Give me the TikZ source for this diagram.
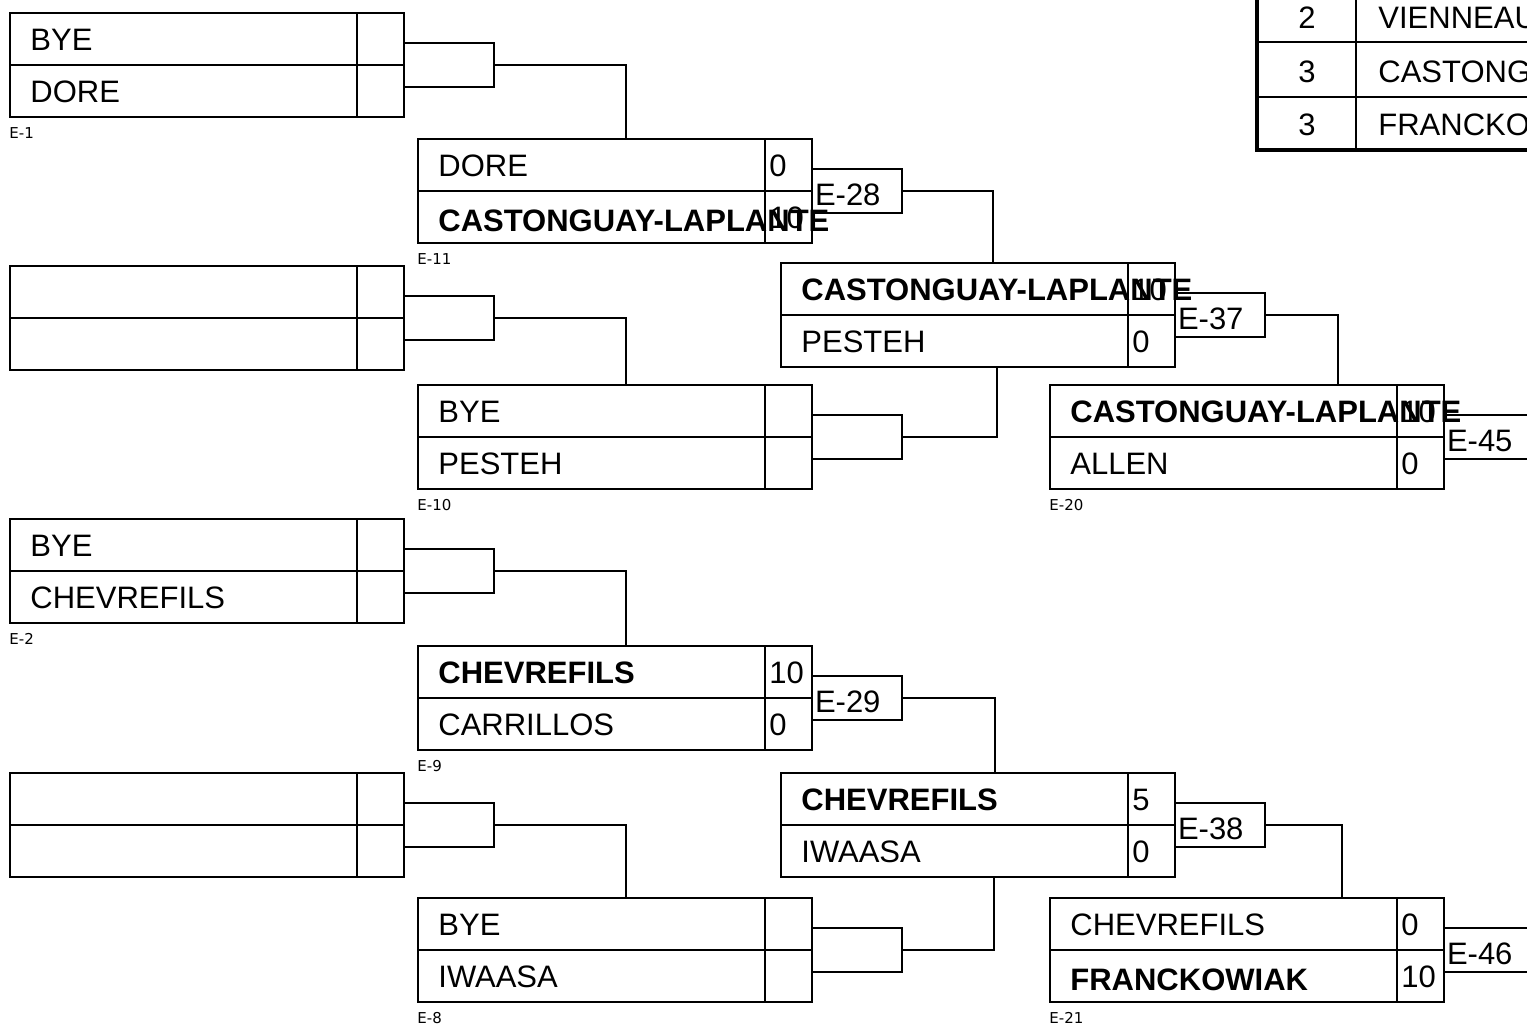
\documentclass[tikz,border=0pt]{standalone}
\usepackage{fontspec}
\setmainfont{Liberation Sans}
\newfontfamily\lblfont{DejaVu Sans}
\tikzset{
  boxframe/.style={draw, line width=1pt, minimum width=197pt, minimum height=52pt, inner sep=0pt, outer sep=0pt},
  divider/.style={line width=0.8pt},
  nametext/.style={font=\fontsize{15.5}{18}\selectfont, anchor=base west, inner sep=0pt},
  wintext/.style={nametext, font=\fontsize{15.5}{18}\selectfont\bfseries},
  winlow/.style={wintext, yshift=-1.5pt},
  lbltext/.style={font=\lblfont\fontsize{7.5}{9}\selectfont, anchor=base west, inner sep=0pt},
  linkbox/.style={draw, line width=0.8pt, minimum width=45pt, minimum height=22pt, inner sep=1.5pt, text width=42pt, text height=14pt, text depth=0pt, align=left, anchor=west, outer sep=0pt, font=\fontsize{15.5}{18}\selectfont},
  wire/.style={line width=0.8pt},
  tabthick/.style={line width=2pt},
  tabthin/.style={line width=0.75pt},
  tabtext/.style={font=\fontsize{15.5}{18}\selectfont, anchor=base, inner sep=0pt},
}
\newcommand\matchbox[3]{%
  \node[boxframe] (#1) at (#2+197,#3+52) {};
  \draw[divider] (#1.west) -- (#1.east);
  \draw[divider] ([xshift=173.5pt]#1.north west) -- ([xshift=173.5pt]#1.south west);
}
\newcommand\mtexts[8]{%
  \node[#2] (#1-n1) at ([xshift=10pt,yshift=-18.5pt]#1.north west) {#3};
  \node[nametext] (#1-s1) at ([xshift=175.5pt,yshift=-18.5pt]#1.north west) {#4};
  \node[#5] (#1-n2) at ([xshift=10pt,yshift=-44.5pt]#1.north west) {#6};
  \node[nametext] (#1-s2) at ([xshift=175.5pt,yshift=-44.5pt]#1.north west) {#7};
  \node[lbltext] (#1-l) at ([xshift=-0.5pt,yshift=-10.5pt]#1.south west) {#8};
}
\begin{document}
\begin{tikzpicture}[x=0.5pt,y=-0.5pt]
\useasboundingbox (0,0) rectangle (1527,1025);
\clip (0,0) rectangle (1527,1025);

% round 1
\matchbox{m1}{10}{13}
\mtexts{m1}{nametext}{BYE}{}{nametext}{DORE}{}{E-1}
\matchbox{m2}{10}{266}
\mtexts{m2}{nametext}{}{}{nametext}{}{}{}
\matchbox{m3}{10}{519}
\mtexts{m3}{nametext}{BYE}{}{nametext}{CHEVREFILS}{}{E-2}
\matchbox{m4}{10}{773}
\mtexts{m4}{nametext}{}{}{nametext}{}{}{}

% round 2
\matchbox{m11}{418}{139}
\mtexts{m11}{nametext}{DORE}{0}{winlow}{CASTONGUAY-LAPLANTE}{10}{E-11}
\matchbox{m10}{418}{385}
\mtexts{m10}{nametext}{BYE}{}{nametext}{PESTEH}{}{E-10}
\matchbox{m9}{418}{646}
\mtexts{m9}{wintext}{CHEVREFILS}{10}{nametext}{CARRILLOS}{0}{E-9}
\matchbox{m8}{418}{898}
\mtexts{m8}{nametext}{BYE}{}{nametext}{IWAASA}{}{E-8}

% round 3
\matchbox{m28}{781}{263}
\mtexts{m28}{wintext}{CASTONGUAY-LAPLANTE}{10}{nametext}{PESTEH}{0}{}
\matchbox{m29}{781}{773}
\mtexts{m29}{wintext}{CHEVREFILS}{5}{nametext}{IWAASA}{0}{}

% round 4
\matchbox{m20}{1050}{385}
\mtexts{m20}{wintext}{CASTONGUAY-LAPLANTE}{10}{nametext}{ALLEN}{0}{E-20}
\matchbox{m21}{1050}{898}
\mtexts{m21}{nametext}{CHEVREFILS}{0}{winlow}{FRANCKOWIAK}{10}{E-21}

% link boxes
\node[linkbox] (r1) at (m1.east) {};
\node[linkbox] (r2) at (m2.east) {};
\node[linkbox] (r3) at (m3.east) {};
\node[linkbox] (r4) at (m4.east) {};
\node[linkbox] (r11) at (m11.east) {E-28};
\node[linkbox] (r10) at (m10.east) {};
\node[linkbox] (r9) at (m9.east) {E-29};
\node[linkbox] (r8) at (m8.east) {};
\node[linkbox] (r28) at (m28.east) {E-37};
\node[linkbox] (r29) at (m29.east) {E-38};
\node[linkbox] (r20) at (m20.east) {E-45};
\node[linkbox] (r21) at (m21.east) {E-46};

% connectors
\draw[wire] (r1.east) -| ([xshift=104pt]m11.north west);
\draw[wire] (r2.east) -| ([xshift=104pt]m10.north west);
\draw[wire] (r3.east) -| ([xshift=104pt]m9.north west);
\draw[wire] (r4.east) -| ([xshift=104pt]m8.north west);
\draw[wire] (r11.east) -| ([xshift=106pt]m28.north west);
\draw[wire] (r10.east) -| ([xshift=108pt]m28.south west);
\draw[wire] (r9.east) -| ([xshift=107pt]m29.north west);
\draw[wire] (r8.east) -| ([xshift=106.5pt]m29.south west);
\draw[wire] (r28.east) -| ([xshift=144pt]m20.north west);
\draw[wire] (r29.east) -| ([xshift=146pt]m21.north west);

% ranking table (top right)
\draw[tabthin] (1257,42) -- (1560,42);
\draw[tabthin] (1257,97) -- (1560,97);
\draw[tabthin] (1356,-20) -- (1356,150);
\draw[tabthick] (1257,-20) -- (1257,150) -- (1560,150);
\node[tabtext] (t1r) at (1307,28) {2};
\node[tabtext] (t2r) at (1307,82) {3};
\node[tabtext] (t3r) at (1307,135) {3};
\node[tabtext, anchor=base west] (t1n) at (1378,28) {VIENNEAU};
\node[tabtext, anchor=base west] (t2n) at (1378,82) {CASTONGUAY-LAPLANTE};
\node[tabtext, anchor=base west] (t3n) at (1378,135) {FRANCKOWIAK};
\end{tikzpicture}
\end{document}
